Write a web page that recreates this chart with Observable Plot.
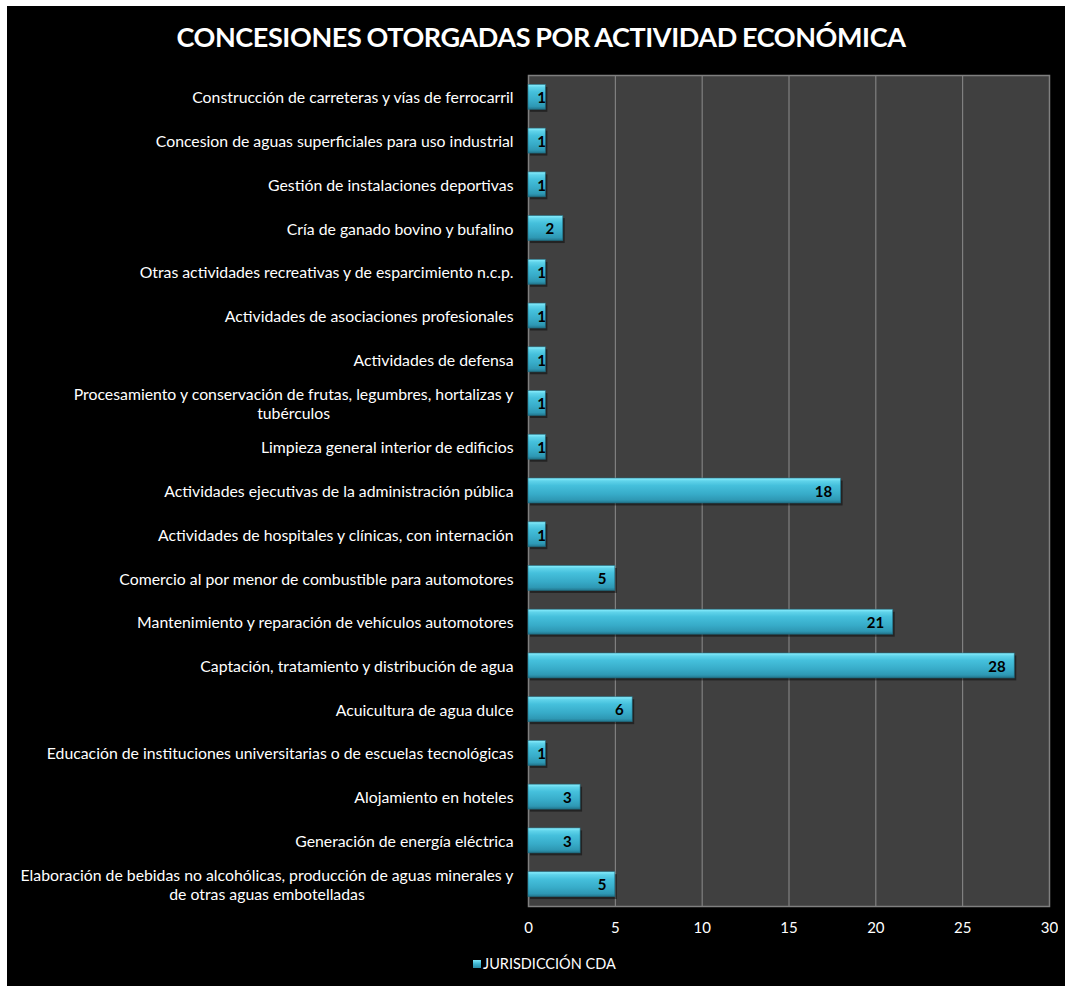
<!DOCTYPE html>
<html><head><meta charset="utf-8">
<script src="https://cdn.jsdelivr.net/npm/d3@7"></script>
<script src="https://cdn.jsdelivr.net/npm/@observablehq/plot@0.6"></script>
<style>
body{margin:0;background:#fff;}
#frame{position:absolute;left:7px;top:6px;width:1058px;height:980px;background:#000;font-family:Lato, "Open Sans", sans-serif;color:#fff;overflow:hidden;}
#title{position:absolute;left:5px;top:14px;width:1058px;text-align:center;font-weight:bold;font-size:27px;letter-spacing:-0.4px;word-spacing:-1px;}
#chart{position:absolute;left:0;top:50px;}
#legend{position:absolute;left:466px;top:949px;font-size:14.5px;line-height:18px;display:flex;align-items:center;}
#legend .sw{width:8px;height:8px;margin-right:2px;background:linear-gradient(#7fe6f8,#3cb3cf 50%,#2a8aa4);}
</style></head>
<body>
<div id="frame">
  <div id="title">CONCESIONES OTORGADAS POR ACTIVIDAD ECONÓMICA</div>
  <div id="chart"></div>
  <div id="legend"><div class="sw"></div><span>JURISDICCIÓN CDA</span></div>
</div>
<script>
const categories = [
  "Construcción de carreteras y vías de ferrocarril",
  "Concesion de aguas superficiales para uso industrial",
  "Gestión de instalaciones deportivas",
  "Cría de ganado bovino y bufalino",
  "Otras actividades recreativas y de esparcimiento n.c.p.",
  "Actividades de asociaciones profesionales",
  "Actividades de defensa",
  "Procesamiento y conservación de frutas, legumbres, hortalizas y\ntubérculos",
  "Limpieza general interior de edificios",
  "Actividades ejecutivas de la administración pública",
  "Actividades de hospitales y clínicas, con internación",
  "Comercio al por menor de combustible para automotores",
  "Mantenimiento y reparación de vehículos automotores",
  "Captación, tratamiento y distribución de agua",
  "Acuicultura de agua dulce",
  "Educación de instituciones universitarias o de escuelas tecnológicas",
  "Alojamiento en hoteles",
  "Generación de energía eléctrica",
  "Elaboración de bebidas no alcohólicas, producción de aguas minerales y\nde otras aguas embotelladas"
];
const values = [1,1,1,2,1,1,1,1,1,18,1,5,21,28,6,1,3,3,5];
const xTicks = [0,5,10,15,20,25,30];
const gridTicks = [5,10,15,20,25];
const seriesName = "JURISDICCIÓN CDA";

const data = categories.map((c,i)=>({c, v: values[i]}));
const inset = 9.4;

const plot = Plot.plot({
  width: 1051,
  height: 900,
  marginLeft: 521,
  marginRight: 9,
  marginTop: 19,
  marginBottom: 50,
  style: {background: "transparent", color: "#fff", fontFamily: "Lato, 'Open Sans', sans-serif", fontSize: "15.8px"},
  x: {domain: [0,30], ticks: xTicks},
  y: {domain: categories, padding: 0, round: false},
  marks: [
    Plot.frame({fill: "#404040"}),
    Plot.ruleX(gridTicks, {stroke: "#8c8c8c", strokeWidth: 1}),
    Plot.frame({stroke: "#7f7f7f", strokeWidth: 1.5}),
    Plot.barX(data, {x: "v", y: "c", insetTop: inset, insetBottom: inset, fill: "#000", fillOpacity: 0.45, dx: 2, dy: 2.5}),
    Plot.barX(data, {x: "v", y: "c", insetTop: inset, insetBottom: inset, fill: "url(#barGrad)"}),
    Plot.barX(data, {x: "v", y: "c", insetTop: inset, insetBottom: inset, fill: "none", stroke: "#1f6f84", strokeWidth: 0.8, strokeOpacity: 0.7}),
    Plot.text(data.filter(d=>d.v>1), {x: "v", y: "c", text: "v", textAnchor: "end", dx: -9, dy: 1, fill: "#000", fontWeight: "bold", fontSize: 15}),
    Plot.text(data.filter(d=>d.v===1), {x: "v", y: "c", text: "v", textAnchor: "end", dx: 0, dy: 1, fill: "#000", fontWeight: "bold", fontSize: 15}),
    Plot.axisX({ticks: xTicks, tickSize: 0, tickPadding: 16, fill: "#fff", fontSize: 15, label: null}),
    Plot.axisY({tickSize: 0, tickPadding: 15, fill: "#fff", fontSize: 15.8, lineHeight: 1.2, label: null, lineWidth: 100, textAnchor: "end"})
  ]
});

const svg = d3.select(plot);
const defs = svg.insert("defs", ":first-child");
const g = defs.append("linearGradient").attr("id","barGrad").attr("x1",0).attr("y1",0).attr("x2",0).attr("y2",1);
[[0,"#8cf0ff"],[0.12,"#5fd3ea"],[0.3,"#45c0dc"],[0.65,"#37abc8"],[0.88,"#2e98b4"],[1,"#22758c"]].forEach(([o,c])=>g.append("stop").attr("offset",o).attr("stop-color",c));
document.getElementById("chart").appendChild(plot);

// center multi-line y labels within their block (right-aligned block)
plot.querySelectorAll('[aria-label="y-axis tick label"] text').forEach(t=>{
  const spans = t.querySelectorAll("tspan");
  if (spans.length > 1) {
    let w = 0;
    spans.forEach(s=>{ w = Math.max(w, s.getComputedTextLength()); });
    t.setAttribute("text-anchor","middle");
    spans.forEach(s=>{ s.setAttribute("x", -w/2); });
  }
});
</script>
</body></html>
